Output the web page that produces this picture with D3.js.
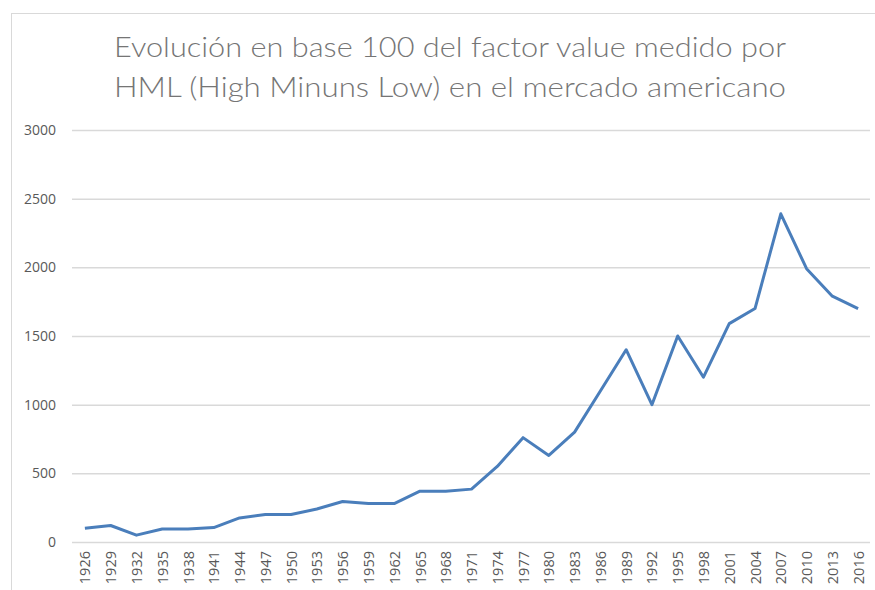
<!DOCTYPE html>
<html>
<head>
<meta charset="utf-8">
<script src="https://cdn.jsdelivr.net/npm/d3@7"></script>
<style>
    body { margin: 0; background: #fff; }
    text { font-family: "Open Sans", "Liberation Sans", sans-serif; }
</style>
</head>
<body>
<svg id="chart" width="875" height="590"></svg>
<script>
// years sampled every 3 years
const years = [1926, 1929, 1932, 1935, 1938, 1941, 1944, 1947, 1950, 1953, 1956, 1959, 1962,
               1965, 1968, 1971, 1974, 1977, 1980, 1983, 1986, 1989, 1992, 1995, 1998, 2001,
               2004, 2007, 2010, 2013, 2016];
// HML base 100
const hml = [100, 120, 50, 95, 95, 105, 175, 200, 200, 240, 295, 280, 280,
             370, 370, 385, 550, 760, 630, 800, 1100, 1400, 1000, 1500, 1200, 1590,
             1700, 2390, 1990, 1790, 1700];
const yTicks = [0, 500, 1000, 1500, 2000, 2500, 3000];
const titleLines = ["Evolución en base 100 del factor value medido por",
                    "HML (High Minuns Low) en el mercado americano"];

const margin = {top: 130, right: 4, bottom: 48, left: 72};
const svg = d3.select("#chart");
const width = 875 - margin.left - margin.right;
const height = 590 - margin.top - margin.bottom;

// chart frame
svg.append("rect")
    .attr("x", 11.5).attr("y", 13.5)
    .attr("width", 880).attr("height", 600)
    .attr("fill", "none").attr("stroke", "#d9d9d9");

// title
svg.selectAll(".title").data(titleLines).enter().append("text")
    .attr("class", "title")
    .attr("x", 450)
    .attr("y", (d, i) => 57 + i * 40)
    .attr("text-anchor", "middle")
    .attr("fill", "#757575")
    .style("font-family", "Lato, 'Open Sans', sans-serif")
    .style("font-weight", 300)
    .style("font-size", "27px")
    .attr("textLength", 672)
    .attr("lengthAdjust", "spacingAndGlyphs")
    .text(d => d);

const g = svg.append("g").attr("transform", "translate(" + margin.left + "," + margin.top + ")");

const x = d3.scalePoint().domain(years).range([0, width]).padding(0.5);
const y = d3.scaleLinear().domain([0, 3000]).range([412, 0]);

// gridlines
g.append("g").attr("class", "grid")
    .selectAll("line").data(yTicks).enter().append("line")
    .attr("x1", 0).attr("x2", width - 1)
    .attr("y1", d => y(d) + 0.5).attr("y2", d => y(d) + 0.5)
    .attr("stroke", "#d9d9d9").attr("stroke-width", 1.5);

// y axis labels
const yAxis = g.append("g").call(d3.axisLeft(y).tickValues(yTicks).tickFormat(d3.format("d"))
    .tickSize(0).tickPadding(16));
yAxis.select(".domain").remove();
yAxis.selectAll("text").attr("fill", "#595959").style("font-size", "14px");

// x axis labels
const xAxis = g.append("g").attr("transform", "translate(0," + 412 + ")")
    .call(d3.axisBottom(x).tickSize(0));
xAxis.select(".domain").remove();
xAxis.selectAll("text")
    .attr("fill", "#595959")
    .style("font-size", "14.5px")
    .attr("transform", "rotate(-90)")
    .attr("text-anchor", "end")
    .attr("x", -9)
    .attr("y", 0)
    .attr("dy", "0.35em");

// the line
const line = d3.line()
    .x((d, i) => x(years[i]))
    .y(d => y(d));

g.append("path")
    .datum(hml)
    .attr("fill", "none")
    .attr("stroke", "#4a7ebb")
    .attr("stroke-width", 3)
    .attr("stroke-linejoin", "round")
    .attr("d", line);
</script>
</body>
</html>
